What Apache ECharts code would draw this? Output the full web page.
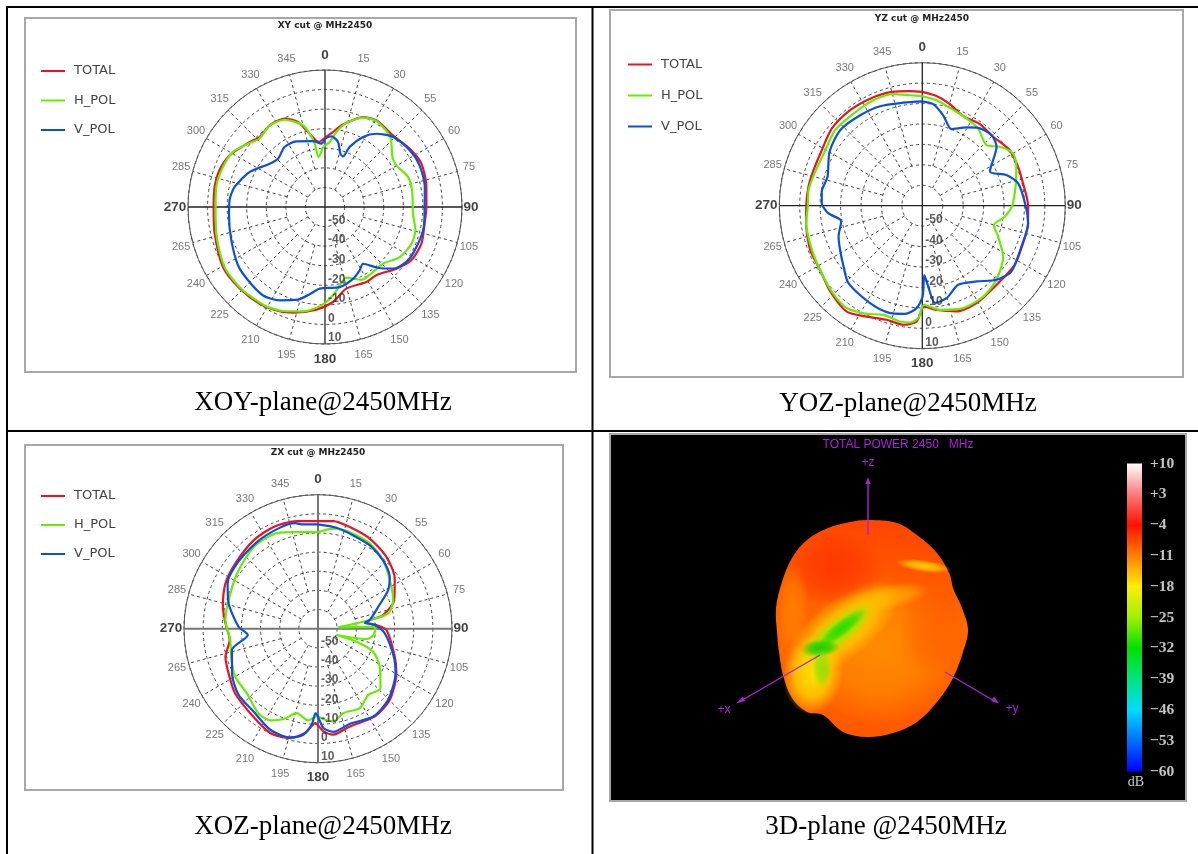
<!DOCTYPE html>
<html><head><meta charset="utf-8">
<style>html,body{margin:0;padding:0;background:#fff}#c{width:1198px;height:854px}</style>
<script src="https://cdn.jsdelivr.net/npm/echarts@6/dist/echarts.min.js"></script>
</head><body><div id="c"></div>
<script>
// angle tick labels exactly as printed on the plots
const angleLabels=["0","15","30","55","60","75","90","105","120","135","150","165","180","195","210","225","240","265","270","285","300","315","330","345"];
const radialTicks=[-50,-40,-30,-20,-10,0,10];
const colorbarLabels=["-60","-53","-46","-39","-32","-25","-18","-11","-4","+3","+10"];
const cutTitles=["XY cut @ MHz2450","YZ cut @ MHz2450","ZX cut @ MHz2450"];
const captions=["XOY-plane@2450MHz","YOZ-plane@2450MHz","XOZ-plane@2450MHz","3D-plane @2450MHz"];
const seriesNames=["TOTAL","H_POL","V_POL"];
// each point: [angle in degrees, dB]
const xyTotal=[[0,-24.6],[6,-21.5],[12.3,-16.9],[22.9,-10.1],[30.6,-8.5],[43.5,-9.6],[55.4,-7.5],[65.8,-6],[78.8,-7.2],[90,-8.2],[99.5,-8.4],[110.8,-7.3],[121.7,-8.2],[130.8,-11.8],[143.1,-16.4],[151.1,-16.2],[165.4,-16.9],[175.2,-11.3],[184.8,-7.4],[196.8,-3.6],[203.5,-1.9],[214,-0.4],[226.3,0.3],[239.5,0.5],[256.4,-2],[270,-3.1],[280.3,-2.7],[289.2,-2.9],[298.5,-4.6],[310.8,-9.2],[317,-11.1],[325.9,-9.6],[335.5,-10.4],[342.4,-14.4],[347.2,-20.7],[354.4,-26.6],[360,-24.6]];
const xyH=[[358.1,-29.3],[4.1,-26.7],[8.6,-21.2],[14.2,-15.7],[23,-10.4],[30.8,-8.8],[43,-11.1],[53.4,-17.1],[59.7,-17.8],[70.1,-14.9],[79.2,-14.7],[94.3,-14.9],[104.5,-12.3],[113,-12],[123.8,-14],[134.3,-18.6],[143.6,-18.7],[153.4,-18.4],[163.2,-22.3],[166.2,-21.4],[174.8,-14.7],[182.1,-9.7],[191.9,-5.5],[202,-2.7],[211.5,-1],[225.7,-0.2],[239.1,-0.2],[256.2,-2.8],[270,-4.1],[280.4,-3.5],[291.4,-4],[300.9,-5.2],[309.4,-9.1],[316.3,-11.6],[325.9,-9.6],[335.2,-10.9],[344.9,-16.7],[348.2,-21.7],[350.7,-27.2],[352.8,-34.3],[358.1,-29.3]];
const xyV=[[0,-25.1],[5.1,-23.7],[11.3,-26.1],[16,-31.6],[19.6,-32.6],[22.3,-26.8],[28.5,-19.3],[35,-14.3],[44.2,-10.1],[56.2,-7.9],[66.2,-7.2],[78.7,-8],[90,-9.1],[101.5,-8.5],[111.5,-8.9],[122.7,-9.6],[132.2,-13.1],[138.9,-18.8],[146.2,-25.1],[151.3,-23.1],[158.7,-20.6],[169.6,-18.4],[183.7,-18.2],[190,-14.7],[196.2,-10.7],[205.9,-7],[215,-4.8],[226.4,-5.7],[236.2,-6.5],[250.4,-9.2],[264,-10.7],[274,-11.1],[282.5,-12.7],[295,-17.6],[308,-24.1],[315.8,-25.6],[326,-23],[336.4,-23.4],[349.7,-25.8],[356.7,-27.6],[360,-25.1]];
const yzTotal=[[0,-4.3],[7.4,-5.9],[15.2,-8.5],[24.6,-11.8],[35.2,-11.1],[45.8,-11.6],[57.6,-9.3],[67.9,-9.4],[77.5,-9.5],[90,-8.2],[99.5,-7.5],[110.4,-7.4],[122.6,-6.3],[136.9,-6.9],[150.9,-5.4],[162,-5.6],[172.2,-8.5],[179,-10.7],[182.8,-3.3],[189,-1],[197.3,-1.5],[206.6,0.7],[215.5,3.7],[227,1.6],[237.8,-0.9],[248.5,-1],[261.4,-2.5],[270,-3.2],[279.5,-3.5],[288.1,-4],[298.9,-3.8],[310.5,-1.8],[322.9,-1.4],[334,-1.7],[345,-2.3],[353.9,-3.6],[360,-4.3]];
const yzH=[[0,-6.4],[7.7,-7.9],[15.7,-10.2],[26.9,-12.1],[35.9,-13.4],[46.7,-16.8],[52.8,-12.3],[60.1,-8.7],[67.5,-10.2],[76.6,-12.9],[90,-16],[97.6,-19.3],[105.1,-23.7],[112.2,-19.9],[122.2,-13.2],[135,-8.7],[146.2,-6.4],[158.2,-6],[170.4,-8.3],[179,-11.5],[182,-5],[186,-2.5],[190.9,-2.3],[199.6,-3.3],[207.2,-0.5],[216.4,2.3],[226.5,1.1],[237.8,-0.9],[248.2,-1.8],[261.4,-2.5],[270,-4],[277.8,-3.8],[287.6,-5],[299.8,-5.3],[310.9,-3.5],[323.2,-3.7],[335.1,-3.1],[345.4,-3.6],[353.6,-5.6],[360,-6.4]];
const yzV=[[0,-8.9],[6.2,-10],[13,-14.6],[20.9,-19.9],[29.5,-16],[35.7,-13.1],[44.5,-11.6],[51.6,-13.6],[63.1,-22.9],[70,-16.2],[76.9,-11.8],[90,-9.4],[99.5,-7.5],[112.4,-7.5],[126.5,-5.8],[135,-8.7],[144.4,-14.4],[155.6,-17.5],[165.3,-13.2],[172.6,-12],[175.8,-20.3],[178.3,-26],[179.8,-15.5],[183.2,-9.8],[189.1,-6.4],[197.6,-5.1],[208.2,-5.9],[223.6,-7.6],[232.3,-11.3],[241.7,-14.3],[249.7,-16.3],[259.3,-19.6],[265.3,-13.9],[271.3,-10.8],[277.9,-10.3],[287,-11.5],[300.1,-7.5],[312.6,-5.4],[325.5,-6.3],[337,-7.1],[349.6,-8.7],[360,-8.9]];
const zxTotal=[[0,-3.8],[8.1,-3.2],[17.4,-4.3],[29.9,-5.7],[43.6,-8.2],[56.8,-12.1],[69.4,-17.5],[78.2,-25.3],[82.3,-35.3],[86.4,-29.4],[91.1,-24.2],[110,-17.3],[119.6,-12.9],[134.7,-7.2],[147,-5.4],[162,-6.3],[171.8,-4.1],[177,-6.3],[181.6,-10.7],[187.1,-5.1],[194.3,-1],[204.6,-0.1],[217.5,-3.2],[232.1,-5.1],[243.5,-7.8],[253.2,-9.5],[262.7,-13.5],[273.3,-11.6],[283,-9],[296,-6.2],[308.2,-5],[323.9,-2.9],[336.4,-2],[348.8,-2.7],[360,-3.8]];
const zxH=[[0,-9.5],[8.7,-7.1],[18.3,-6.9],[31.4,-7.9],[43.6,-10.7],[55.9,-14.7],[69.2,-18],[77.7,-22.5],[80.5,-32.6],[86.2,-49.4],[88,-30],[96.5,-30.7],[102,-34.1],[108.7,-49.8],[108.6,-38.8],[112.6,-28.8],[121.5,-22.2],[133.6,-14.9],[142.8,-16.6],[152.2,-13.1],[163.3,-14],[170.6,-10.9],[175.6,-12.3],[180.9,-14.2],[186,-11.8],[194.1,-14.5],[200.9,-9.5],[207.6,-6],[215.2,-6],[227.8,-9.8],[240,-10],[252.2,-12.3],[262.7,-13.8],[275.3,-11.4],[287.7,-11],[304.2,-8.8],[321.7,-5.7],[336.7,-5.6],[347.6,-8.3],[360,-9.5]];
const zxV=[[0,-5.5],[10.4,-6.4],[20.7,-7.9],[31.9,-8.7],[43.6,-10.7],[54.2,-13.8],[61.2,-18.2],[70,-26.5],[80.5,-32.6],[82.7,-35.3],[86.3,-30.3],[94,-25],[110.2,-17.8],[119.9,-13.3],[135.4,-7.8],[147.8,-5.8],[161.4,-7.6],[171.6,-5.5],[176.9,-8.1],[181.6,-15.9],[183.8,-9.7],[187.9,-4.1],[194.4,-1.4],[205.3,-1.6],[217.9,-5.2],[230.2,-6],[242.6,-9.4],[256.1,-13.7],[264.9,-23.2],[271.4,-18.5],[285.8,-11.5],[296.6,-7.2],[308.8,-5.7],[324.8,-4.6],[339.4,-3.6],[347.8,-3.6],[352,-5],[360,-5.5]];

const curves=[[xyTotal,xyH,xyV],[yzTotal,yzH,yzV],[zxTotal,zxH,zxV]];
const colors=['#ee1122','#66ee00','#0a50e0'];
const polars=[{center:[325,207],radius:137},{center:[922.3,205.7],radius:143},{center:[318,628.7],radius:134}];
const legendPos=[{left:36,top:59.5},{left:623,top:53},{left:36,top:484.5}];
const legendGap=[16.5,18,16];

const spokeSeg=[];
for(let a=0;a<360;a+=15){ if(a%90===0)continue; const r0=a%30===0?-50:-40; spokeSeg.push([r0,a],[10,a],['-','-']); }
const crossSeg=[];
[0,90,180,270].forEach(a=>crossSeg.push([10,a],[-60,a],['-','-']));
const cardinalPad={0:15,90:9,180:15,270:13};

const series=[];
polars.forEach((p,i)=>{
  series.push({type:'line',polarIndex:i,coordinateSystem:'polar',data:spokeSeg,showSymbol:false,symbol:'none',silent:true,z:1,
    connectNulls:false,lineStyle:{color:'#444',width:1,type:[3,3]}});
  series.push({type:'line',polarIndex:i,coordinateSystem:'polar',data:crossSeg,showSymbol:false,symbol:'none',silent:true,z:1,
    connectNulls:false,lineStyle:{color:i===2?'#777':'#222',width:i===2?2:1.3}});
  series.push({type:'scatter',polarIndex:i,coordinateSystem:'polar',symbolSize:0,silent:true,z:6,
    data:radialTicks.map(v=>[v,180]),
    label:{show:true,position:'right',distance:3,offset:[0,-6],formatter:o=>String(o.value[0]),color:'#333',
      fontWeight:'bold',fontSize:12,fontFamily:'Liberation Sans'}});
  // outer angle labels, from the printed list
  series.push({type:'scatter',polarIndex:i,coordinateSystem:'polar',symbolSize:0,silent:true,z:6,
    data:angleLabels.map((s,k)=>{
      const a=k*15, rad=a*Math.PI/180, card=a%90===0;
      const dx=Math.sin(rad)*(card?cardinalPad[a]:12), dy=-Math.cos(rad)*(card?cardinalPad[a]:16);
      return {value:[10,a],label:{offset:[dx,dy],fontWeight:card?'bold':'normal',fontSize:card?13.5:11,color:card?'#111':'#555'}};
    }),
    label:{show:true,position:'inside',fontFamily:'Liberation Sans',formatter:o=>angleLabels[o.dataIndex]}});
  curves[i].forEach((pts,k)=>{
    series.push({name:seriesNames[k],type:'line',polarIndex:i,coordinateSystem:'polar',symbol:'none',smooth:0.25,z:3+k,
      data:pts.map(d=>[d[1],d[0]]),lineStyle:{color:colors[k],width:2.2},itemStyle:{color:colors[k]}});
  });
});

function frame(x0,y0,x1,y1,fill){
  return [{type:'rect',z:-10,shape:{x:x0-1,y:y0-1,width:x1-x0+2,height:y1-y0+2},style:{fill:'#a8a8a8'}},
          {type:'rect',z:-10,shape:{x:x0+1,y:y0+1,width:x1-x0-2,height:y1-y0-2},style:{fill:fill}}];
}
function soft(cx,cy,rx,ry,deg,rgb,a){
  return {type:'circle',z:-8,x:cx,y:cy,scaleX:rx/100,scaleY:ry/100,rotation:deg*Math.PI/180,silent:true,shape:{cx:0,cy:0,r:100},
    style:{fill:{type:'radial',x:0.5,y:0.5,r:0.5,colorStops:[{offset:0,color:`rgba(${rgb},${a})`},{offset:0.55,color:`rgba(${rgb},${a*0.7})`},{offset:1,color:`rgba(${rgb},0)`}]}}};
}
function txt(t,x,y,font,fill,z){return {type:'text',z:z||-7,style:{text:t,x:x,y:y,font:font,fill:fill,align:'center',verticalAlign:'middle'}};}
const purple='#ae20d8';
function seg(x1,y1,x2,y2){return {type:'line',z:-7,shape:{x1,y1,x2,y2},style:{stroke:purple,lineWidth:1.4}};}
function tri(pts){return {type:'polygon',z:-7,shape:{points:pts},style:{fill:purple}};}

const graphic=[]
 .concat(frame(25,18,576,372,'#fff'),frame(610,10,1183,377,'#fff'),frame(25,445,563,790,'#fff'),frame(610,434,1186,801,'#000'))
 .concat([
  {type:'rect',z:-9,shape:{x:6,y:6,width:1192,height:2},style:{fill:'#000'}},
  {type:'rect',z:-9,shape:{x:6,y:430,width:1192,height:2},style:{fill:'#000'}},
  {type:'rect',z:-9,shape:{x:6,y:6,width:2,height:848},style:{fill:'#000'}},
  {type:'rect',z:-9,shape:{x:591.5,y:6,width:2,height:848},style:{fill:'#000'}},
  {type:'polygon',z:-8,shape:{smooth:0.35,smoothConstraint:false,points:[[868,520],[897,523],[917,535],[937,553],[950,575],[953,588],[962,608],[968,630],[963,652],[953,678],[937,702],[917,722],[893,733],[867,737],[843,732],[823,715],[807,712],[792,698],[783,675],[779,652],[777,632],[776,608],[782,582],[792,558],[807,540],[828,528],[850,522]]},
    style:{fill:{type:'linear',x:0,y:0,x2:0,y2:1,colorStops:[{offset:0,color:'#ff4400'},{offset:0.5,color:'#ff6a00'},{offset:1,color:'#ff5800'}]}}}
 ])
 .concat([
  soft(880,650,80,75,0,'255,145,0',0.85),
  soft(835,570,48,38,0,'255,40,0',0.6),
  soft(932,632,32,48,0,'255,90,0',0.6),
  soft(793,610,16,48,0,'255,130,0',0.8),
  soft(842,630,70,30,38,'255,215,0',0.9),
  soft(885,598,46,13,12,'255,200,0',0.6),
  soft(813,675,30,40,-8,'255,225,0',1),
  soft(838,632,46,15,38,'150,235,0',0.95),
  soft(842,628,30,8,38,'40,220,0',1),
  soft(820,648,20,9,5,'30,205,0',1),
  soft(822,668,10,20,0,'120,230,0',0.8),
  soft(924,566,28,6,-8,'255,205,0',1)
 ])
 .concat([
  seg(868,535,868,481),tri([[868,477],[865.5,484],[870.5,484]]),
  seg(820,655,739,702),tri([[736,703.5],[743,696.5],[745,701]]),
  seg(945,672,996,702),tri([[999,703.5],[991,701],[994,696.5]]),
  txt('+z',868,463,'12px "Liberation Sans"',purple),
  txt('+x',724,710,'12px "Liberation Sans"',purple),
  txt('+y',1012,709,'12px "Liberation Sans"',purple),
  txt('TOTAL POWER 2450   MHz',898,445,'12px "Liberation Sans"',purple),
  txt('dB',1136,782,'14px "Liberation Serif"','#cccccc'),
  txt(cutTitles[0],325,26,'bold 9px "DejaVu Sans"','#222'),
  txt(cutTitles[1],922,19,'bold 9px "DejaVu Sans"','#222'),
  txt(cutTitles[2],318,453,'bold 9px "DejaVu Sans"','#222'),
  txt(captions[0],323,403,'27px "Liberation Serif"','#000'),
  txt(captions[1],908,404,'27px "Liberation Serif"','#000'),
  txt(captions[2],323,827,'27px "Liberation Serif"','#000'),
  txt(captions[3],886,827,'27px "Liberation Serif"','#000')
 ]);

const option={
  animation:false,
  backgroundColor:'#fff',
  polar:polars,
  angleAxis:polars.map((p,i)=>({polarIndex:i,type:'value',min:0,max:360,interval:15,startAngle:90,clockwise:true,
    axisLine:{show:true,lineStyle:{color:'#555',width:1}},axisTick:{show:false},splitLine:{show:false},axisLabel:{show:false}})),
  radiusAxis:polars.map((p,i)=>({polarIndex:i,type:'value',min:-60,max:10,interval:10,
    axisLine:{show:false},axisTick:{show:false},axisLabel:{show:false},
    splitLine:{show:true,lineStyle:{color:'#444',width:1,type:[3,3]}}})),
  legend:polars.map((p,i)=>({data:seriesNames,orient:'vertical',left:legendPos[i].left,top:legendPos[i].top,itemWidth:24,itemHeight:2,itemGap:legendGap[i],
    icon:'rect',selectedMode:false,textStyle:{color:'#444',fontFamily:'DejaVu Sans',fontSize:13,padding:[0,0,0,4]}})),
  grid:[{left:1127,top:463.5,width:15,height:308,show:true,borderWidth:0,containLabel:false,
    backgroundColor:{type:'linear',x:0,y:0,x2:0,y2:1,colorStops:[
      {offset:0,color:'#ffffff'},{offset:0.1,color:'#ff7a7a'},{offset:0.2,color:'#ff1000'},{offset:0.3,color:'#ff8000'},
      {offset:0.4,color:'#ffee00'},{offset:0.5,color:'#a0f000'},{offset:0.6,color:'#00e000'},{offset:0.7,color:'#00e480'},
      {offset:0.8,color:'#00dcff'},{offset:0.9,color:'#0070ff'},{offset:1,color:'#0000ff'}]}}],
  xAxis:[{type:'value',show:false,min:0,max:1}],
  yAxis:[{type:'category',data:colorbarLabels,boundaryGap:false,position:'right',axisLine:{show:false},axisTick:{show:false},splitLine:{show:false},
    axisLabel:{interval:0,margin:8,align:'left',color:'#c4c4c4',fontFamily:'Liberation Serif',fontWeight:'bold',fontSize:15.5,
      formatter:s=>s.replace('-','\u2212')}}],
  series:series,
  graphic:{elements:graphic}
};
const chart=echarts.init(document.getElementById('c'),null,{renderer:'canvas',width:1198,height:854});
chart.setOption(option);
</script></body></html>
